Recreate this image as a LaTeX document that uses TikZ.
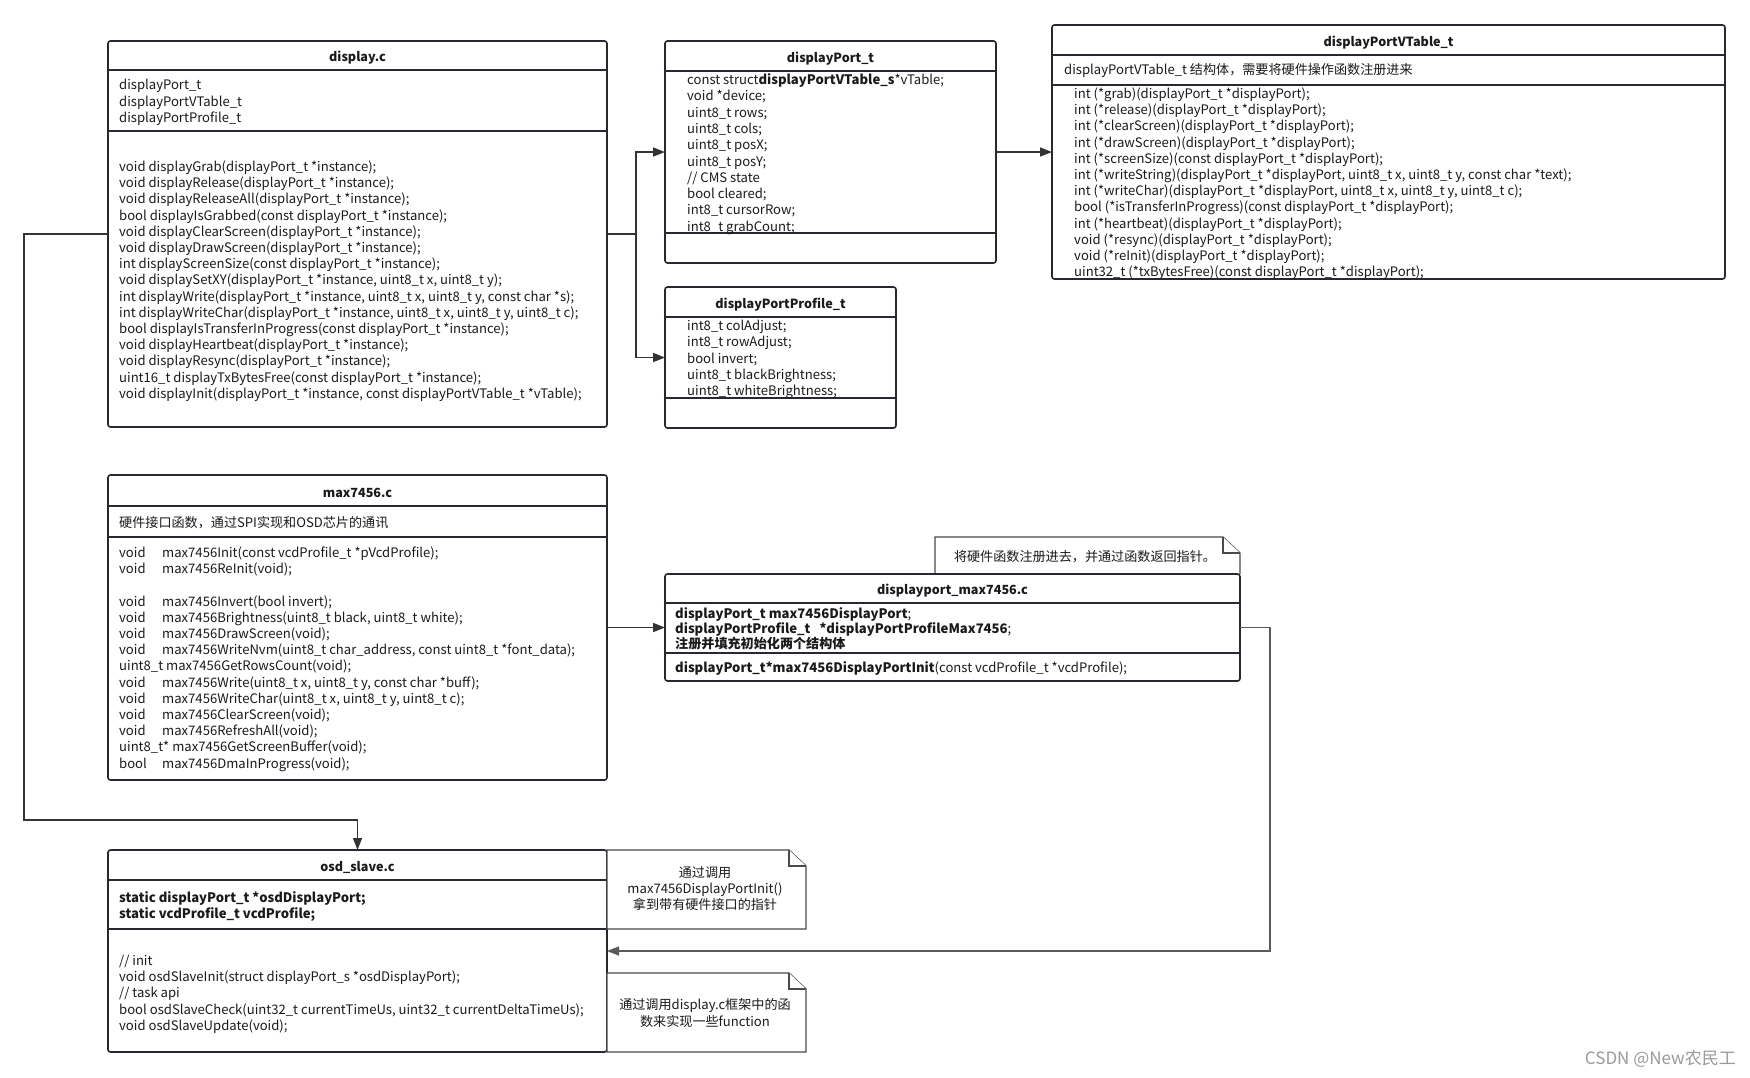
\documentclass[tikz,border=0pt]{standalone}
\usepackage{fontspec}
\setmainfont{Noto Sans CJK SC}
\usetikzlibrary{arrows.meta}
\definecolor{boxc}{HTML}{262A30}
\definecolor{linec}{HTML}{333333}
\definecolor{graylc}{HTML}{5A5A5A}
\definecolor{notec}{HTML}{4A4A4A}
\definecolor{txtc}{HTML}{1A1A1A}
\definecolor{wmc}{HTML}{9A9A9A}
\newcommand\fs{\fontsize{13.1pt}{16.3pt}\selectfont}
\newcommand\tfs{\fontsize{12.6pt}{16pt}\selectfont\bfseries}
\newcommand\mlines[2]{\vtop{\baselineskip=#1\lineskiplimit=-10pt\halign{##\hfil\cr#2\crcr}}}
\newcommand\clines[2]{\vtop{\baselineskip=#1\lineskiplimit=-10pt\halign{\hfil##\hfil\cr#2\crcr}}}
\newcommand\Vw[1]{\makebox[43pt][l]{#1}}
\tikzset{
  cls/.style={draw=boxc, line width=1.6pt, rounded corners=2.5pt, fill=white,
    anchor=north west, inner sep=0pt, outer sep=0pt},
  sepl/.style={draw=boxc, line width=1.6pt},
  ttl/.style={anchor=center, inner sep=0pt, text=txtc, font=\tfs},
  txt/.style={anchor=base west, inner sep=0pt, text=txtc, font=\fs},
  ntxt/.style={anchor=base, inner sep=0pt, text=txtc, font=\fs},
  notebox/.style={draw=notec, line width=1.3pt, fill=white, line join=miter},
  conn/.style={draw=linec, line width=1.6pt},
  arr/.style={conn, -{Triangle[length=12pt,width=9pt]}},
  garr/.style={draw=graylc, line width=1.4pt, -{Triangle[length=12pt,width=9pt]}},
}
\begin{document}
\begin{tikzpicture}[x=1pt,y=-1pt]
\useasboundingbox (0,0) rectangle (1750,1077);
\fill[white] (0,0) rectangle (1750,1077);

% ---------- display.c ----------
\node[cls, minimum width=499pt, minimum height=386pt] (display) at (108,41) {};
\draw[sepl] (display.west |- 0,70) -- (display.east |- 0,70);
\draw[sepl] (display.west |- 0,131) -- (display.east |- 0,131);
\node[ttl] (displayT) at (357.5,58) {display.c};
\node[txt] (displayA) at (119,89.5) {\mlines{16.5pt}{displayPort\_t\cr displayPortVTable\_t\cr displayPortProfile\_t}};
\node[txt] (displayM) at (119,171.5) {\mlines{16.2pt}{%
void displayGrab(displayPort\_t *instance);\cr
void displayRelease(displayPort\_t *instance);\cr
void displayReleaseAll(displayPort\_t *instance);\cr
bool displayIsGrabbed(const displayPort\_t *instance);\cr
void displayClearScreen(displayPort\_t *instance);\cr
void displayDrawScreen(displayPort\_t *instance);\cr
int displayScreenSize(const displayPort\_t *instance);\cr
void displaySetXY(displayPort\_t *instance, uint8\_t x, uint8\_t y);\cr
int displayWrite(displayPort\_t *instance, uint8\_t x, uint8\_t y, const char *s);\cr
int displayWriteChar(displayPort\_t *instance, uint8\_t x, uint8\_t y, uint8\_t c);\cr
bool displayIsTransferInProgress(const displayPort\_t *instance);\cr
void displayHeartbeat(displayPort\_t *instance);\cr
void displayResync(displayPort\_t *instance);\cr
uint16\_t displayTxBytesFree(const displayPort\_t *instance);\cr
void displayInit(displayPort\_t *instance, const displayPortVTable\_t *vTable);}};

% ---------- displayPort_t ----------
\node[cls, minimum width=331pt, minimum height=222pt] (dport) at (665,41) {};
\draw[sepl] (dport.west |- 0,71) -- (dport.east |- 0,71);
\draw[sepl] (dport.west |- 0,233) -- (dport.east |- 0,233);
\node[ttl] (dportT) at (830.5,58.5) {displayPort\_t};
\node[txt] (dportA) at (687,84.5) {\mlines{16.3pt}{%
const struct\textbf{displayPortVTable\_s}*vTable;\cr
void *device;\cr
uint8\_t rows;\cr
uint8\_t cols;\cr
uint8\_t posX;\cr
uint8\_t posY;\cr
// CMS state\cr
bool cleared;\cr
int8\_t cursorRow;\cr
int8\_t grabCount;}};

% ---------- displayPortProfile_t ----------
\node[cls, minimum width=231pt, minimum height=141pt] (dprof) at (665,287) {};
\draw[sepl] (dprof.west |- 0,317) -- (dprof.east |- 0,317);
\draw[sepl] (dprof.west |- 0,398) -- (dprof.east |- 0,398);
\node[ttl] (dprofT) at (780.5,304.5) {displayPortProfile\_t};
\node[txt] (dprofA) at (687,330.5) {\mlines{16.3pt}{%
int8\_t colAdjust;\cr
int8\_t rowAdjust;\cr
bool invert;\cr
uint8\_t blackBrightness;\cr
uint8\_t whiteBrightness;}};

% ---------- displayPortVTable_t ----------
\node[cls, minimum width=673pt, minimum height=254pt] (vtab) at (1052,25) {};
\draw[sepl] (vtab.west |- 0,55) -- (vtab.east |- 0,55);
\draw[sepl] (vtab.west |- 0,85) -- (vtab.east |- 0,85);
\node[ttl] (vtabT) at (1388.5,42.5) {displayPortVTable\_t};
\node[txt] (vtabD) at (1064,74.5) {displayPortVTable\_t 结构体，需要将硬件操作函数注册进来};
\node[txt] (vtabM) at (1074,98.5) {\mlines{16.2pt}{%
int (*grab)(displayPort\_t *displayPort);\cr
int (*release)(displayPort\_t *displayPort);\cr
int (*clearScreen)(displayPort\_t *displayPort);\cr
int (*drawScreen)(displayPort\_t *displayPort);\cr
int (*screenSize)(const displayPort\_t *displayPort);\cr
int (*writeString)(displayPort\_t *displayPort, uint8\_t x, uint8\_t y, const char *text);\cr
int (*writeChar)(displayPort\_t *displayPort, uint8\_t x, uint8\_t y, uint8\_t c);\cr
bool (*isTransferInProgress)(const displayPort\_t *displayPort);\cr
int (*heartbeat)(displayPort\_t *displayPort);\cr
void (*resync)(displayPort\_t *displayPort);\cr
void (*reInit)(displayPort\_t *displayPort);\cr
uint32\_t (*txBytesFree)(const displayPort\_t *displayPort);}};

% ---------- max7456.c ----------
\node[cls, minimum width=499pt, minimum height=305pt] (maxc) at (108,475) {};
\draw[sepl] (maxc.west |- 0,506) -- (maxc.east |- 0,506);
\draw[sepl] (maxc.west |- 0,537) -- (maxc.east |- 0,537);
\node[ttl] (maxcT) at (357.5,493) {max7456.c};
\node[txt] (maxcD) at (119,527.5) {硬件接口函数，通过SPI实现和OSD芯片的通讯};
\node[txt] (maxcM) at (119,557.5) {\mlines{16.2pt}{%
\Vw{void}max7456Init(const vcdProfile\_t *pVcdProfile);\cr
\Vw{void}max7456ReInit(void);\cr
\cr
\Vw{void}max7456Invert(bool invert);\cr
\Vw{void}max7456Brightness(uint8\_t black, uint8\_t white);\cr
\Vw{void}max7456DrawScreen(void);\cr
\Vw{void}max7456WriteNvm(uint8\_t char\_address, const uint8\_t *font\_data);\cr
uint8\_t max7456GetRowsCount(void);\cr
\Vw{void}max7456Write(uint8\_t x, uint8\_t y, const char *buff);\cr
\Vw{void}max7456WriteChar(uint8\_t x, uint8\_t y, uint8\_t c);\cr
\Vw{void}max7456ClearScreen(void);\cr
\Vw{void}max7456RefreshAll(void);\cr
uint8\_t* max7456GetScreenBuffer(void);\cr
\Vw{bool}max7456DmaInProgress(void);}};

% ---------- note above displayport_max7456.c ----------
\draw[notebox] (935,574) -- (935,537) -- (1223,537) -- (1240,553) -- (1240,574);
\draw[notebox] (1223,537) -- (1223,553) -- (1240,553);
\node[ntxt] (noteTopT) at (1085,561) {将硬件函数注册进去，并通过函数返回指针。};

% ---------- displayport_max7456.c ----------
\node[cls, minimum width=575pt, minimum height=107pt] (dpmax) at (665,574) {};
\draw[sepl] (dpmax.west |- 0,603) -- (dpmax.east |- 0,603);
\draw[sepl] (dpmax.west |- 0,653) -- (dpmax.east |- 0,653);
\node[ttl] (dpmaxT) at (952.5,591) {displayport\_max7456.c};
\node[txt] (dpmaxA) at (675,618.5) {\mlines{15pt}{%
\textbf{displayPort\_t max7456DisplayPort};\cr
\textbf{displayPortProfile\_t \ \ *displayPortProfileMax7456};\cr
\textbf{注册并填充初始化两个结构体}}};
\node[txt] (dpmaxM) at (675,672.5) {\textbf{displayPort\_t*max7456DisplayPortInit}(const vcdProfile\_t *vcdProfile);};

% ---------- osd_slave.c ----------
\node[cls, minimum width=499pt, minimum height=202pt] (osd) at (108,850) {};
\draw[sepl] (osd.west |- 0,880) -- (osd.east |- 0,880);
\draw[sepl] (osd.west |- 0,929) -- (osd.east |- 0,929);
\node[ttl] (osdT) at (357.5,867.5) {osd\_slave.c};
\node[txt] (osdA) at (119,902.5) {\mlines{15.5pt}{%
\textbf{static displayPort\_t *osdDisplayPort;}\cr
\textbf{static vcdProfile\_t vcdProfile;}}};
\node[txt] (osdM) at (119,965.5) {\mlines{16.2pt}{%
// init\cr
void osdSlaveInit(struct displayPort\_s *osdDisplayPort);\cr
// task api\cr
bool osdSlaveCheck(uint32\_t currentTimeUs, uint32\_t currentDeltaTimeUs);\cr
void osdSlaveUpdate(void);}};

% ---------- notes beside osd_slave.c ----------
\draw[notebox] (607,850) -- (789,850) -- (806,866) -- (806,929) -- (607,929) -- cycle;
\draw[notebox] (789,850) -- (789,866) -- (806,866);
\node[ntxt] (note1T) at (705,877.5) {\clines{16pt}{通过调用\cr max7456DisplayPortInit()\cr 拿到带有硬件接口的指针}};
\draw[notebox] (607,973) -- (789,973) -- (806,989) -- (806,1052) -- (607,1052) -- cycle;
\draw[notebox] (789,973) -- (789,989) -- (806,989);
\node[ntxt] (note2T) at (705,1009.5) {\clines{16.5pt}{通过调用display.c框架中的函\cr 数来实现一些function}};

% ---------- connectors ----------
\coordinate (j1) at (636,234);
\coordinate (j3) at (24,820);
\coordinate (j5) at (1270,951);
\draw[conn] (display.east) -- (j1);
\draw[arr] (j1) |- (dport.west);
\draw[arr] (j1) |- (dprof.west);
\draw[arr] (dport.east) -- (vtab.west);
\draw[arr] (display.west) -| (j3) -| (osd.north);
\draw[arr] (maxc.east) -- (dpmax.west);
\draw[garr] (dpmax.east) -| (j5) |- (osd.east);

% ---------- watermark ----------
\node[anchor=base east, inner sep=0pt, text=wmc, font=\fontsize{17pt}{20pt}\selectfont] (wm) at (1736,1064) {CSDN @New农民工};
\end{tikzpicture}
\end{document}
